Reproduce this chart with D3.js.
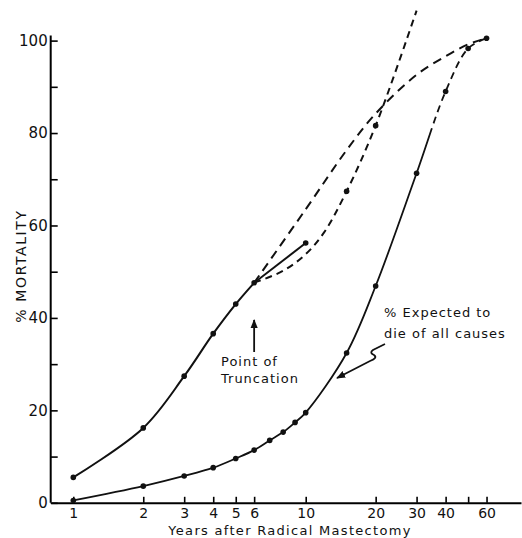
<!DOCTYPE html>
<html>
<head>
<meta charset="utf-8">
<script src="https://cdn.jsdelivr.net/npm/d3@7"></script>
<style>
  body { margin: 0; background: #fff; }
  text { font-family: "DejaVu Sans", sans-serif; fill: #111; }
</style>
</head>
<body>
<svg id="chart" width="522" height="538"></svg>
<script>
// x tick labels (years, log spaced) and y ticks
var xTicks = [1, 2, 3, 4, 5, 6, 10, 20, 30, 40, 50, 60];
var xTickLabels = ["1", "2", "3", "4", "5", "6", "10", "20", "30", "40", "", "60"];
var yTicks = [0, 10, 20, 30, 40, 50, 60, 70, 80, 90, 100];
var yTickLabels = ["0", "", "20", "", "40", "", "60", "", "80", "", "100"];

// observed mortality, years 1-6
var obsYears = [1, 2, 3, 4, 5, 6];
var obsMort = [5.5, 16.2, 27.4, 36.6, 43.0, 47.6];

// short solid piece after truncation
var truncYears = [6, 10];
var truncMort = [47.6, 56.2];

// projected (dashed) from truncation point
var projYears = [6, 8, 10, 12, 15, 20, 30];
var projMort = [47.6, 50.2, 53.8, 58.5, 67.4, 81.6, 106.5];
var projDots = [15, 20];

// extrapolated (long dashed) curve
var extYears = [6, 10, 15, 20, 30, 40, 50, 60];
var extMort = [47.6, 63.5, 76.3, 84.2, 92.6, 96.6, 99.2, 100.5];

// expected to die of all causes
var expYears = [1, 2, 3, 4, 5, 6, 7, 8, 9, 10, 15, 20, 30, 40, 50, 60];
var expMort = [0.5, 3.6, 5.8, 7.6, 9.6, 11.4, 13.5, 15.3, 17.4, 19.5, 32.4, 46.9, 71.3, 89, 98.3, 100.5];
var expSolidUntil = 34.9; // after this year the line is dashed

var svg = d3.select("#chart");

// log scale: year 1 at 73.3px, year 10 at 305.7px, axis runs 50.7 -> 521
var x = d3.scaleLog().domain([1, 10]).range([73.3, 305.7]);
x.domain([x.invert(50.7), x.invert(521)]).range([50.7, 521]);
var y = d3.scaleLinear().domain([0, 100]).range([502.8, 40.6]);

var zip = function(a, b) { return a.map(function(v, i) { return {yr: v, m: b[i]}; }); };

// axes
var xAxis = d3.axisBottom(x)
    .tickValues(xTicks)
    .tickFormat(function(d, i) { return xTickLabels[i]; })
    .tickSizeInner(-6).tickSizeOuter(0).tickPadding(5);
var gx = svg.append("g").attr("transform", "translate(0," + y(0) + ")").call(xAxis);
gx.select(".domain").attr("stroke-width", 2);
gx.selectAll(".tick line").attr("stroke-width", 1.6);
gx.selectAll("text").style("font-size", "14px");

var yAxis = d3.axisLeft(y)
    .tickValues(yTicks)
    .tickFormat(function(d, i) { return yTickLabels[i]; })
    .tickSizeInner(-7).tickSizeOuter(0).tickPadding(3);
var gy = svg.append("g").attr("transform", "translate(" + x.range()[0] + ",0)").call(yAxis);
gy.select(".domain").attr("d", "M0," + y(0) + "V" + (y(100) - 5)).attr("stroke-width", 2);
gy.selectAll(".tick line").attr("stroke-width", 1.6);
gy.selectAll("text").style("font-size", "15px");

svg.append("text")
    .attr("x", 290).attr("y", 535)
    .attr("text-anchor", "middle")
    .style("font-size", "13px").style("letter-spacing", "1.3px")
    .text("Years after Radical Mastectomy");

svg.append("text")
    .attr("transform", "translate(26,266) rotate(-90)")
    .attr("text-anchor", "middle")
    .style("font-size", "14px").style("letter-spacing", "1.6px")
    .text("% MORTALITY");

var line = function(curve) {
    return d3.line().x(function(d) { return x(d.yr); }).y(function(d) { return y(d.m); }).curve(curve);
};

var drawPath = function(data, curve, dash, w) {
    svg.append("path")
        .datum(data)
        .attr("d", line(curve))
        .attr("fill", "none")
        .attr("stroke", "#111")
        .attr("stroke-width", w)
        .attr("stroke-dasharray", dash);
};

var smooth = d3.curveCatmullRom.alpha(0.5);

// long dashed extrapolation
drawPath(zip(extYears, extMort), smooth, "9,6", 2);
// projected dashed
drawPath(zip(projYears, projMort), smooth, "7,5", 2);
// observed
drawPath(zip(obsYears, obsMort), smooth, null, 2);
drawPath(zip(truncYears, truncMort), d3.curveLinear, null, 2);

// expected curve: solid then dashed
var expAll = zip(expYears, expMort);
var expPath = svg.append("path")
    .datum(expAll)
    .attr("d", line(smooth))
    .attr("fill", "none").attr("stroke", "#111").attr("stroke-width", 1.8);
// split solid / dashed by length at expSolidUntil
var node = expPath.node(), total = node.getTotalLength(), lo = 0, hi = total;
for (var k = 0; k < 30; k++) {
    var mid = (lo + hi) / 2;
    if (node.getPointAtLength(mid).x < x(expSolidUntil)) lo = mid; else hi = mid;
}
var dashes = [lo];
var pos = lo, on = false;
while (pos < total) { dashes.push(on ? 7 : 5); pos += on ? 7 : 5; on = !on; }
expPath.attr("stroke-dasharray", dashes.join(","));

// dots
var dots = zip(obsYears, obsMort)
    .concat(zip(truncYears.slice(1), truncMort.slice(1)))
    .concat(zip(projYears, projMort).filter(function(d) { return projDots.indexOf(d.yr) >= 0; }))
    .concat(expAll);
svg.selectAll("circle.dot")
    .data(dots)
    .enter().append("circle")
    .attr("class", "dot")
    .attr("cx", function(d) { return x(d.yr); })
    .attr("cy", function(d) { return y(d.m); })
    .attr("r", 2.8)
    .attr("fill", "#111");

// annotations
svg.append("defs").append("marker")
    .attr("id", "head").attr("viewBox", "0 0 10 10")
    .attr("refX", 9).attr("refY", 5)
    .attr("markerWidth", 5).attr("markerHeight", 5)
    .attr("orient", "auto")
    .append("path").attr("d", "M0,1L10,5L0,9Z").attr("fill", "#111");

svg.append("line")
    .attr("x1", x(6)).attr("y1", 352).attr("x2", x(6)).attr("y2", 320)
    .attr("stroke", "#111").attr("stroke-width", 1.8)
    .attr("marker-end", "url(#head)");

svg.append("text").attr("x", 221).attr("y", 366)
    .style("font-size", "13px").style("letter-spacing", "1px").text("Point  of");
svg.append("text").attr("x", 221).attr("y", 383)
    .style("font-size", "13px").style("letter-spacing", "1px").text("Truncation");

svg.append("text").attr("x", 384).attr("y", 317)
    .style("font-size", "13px").style("letter-spacing", "1px").text("% Expected  to");
svg.append("text").attr("x", 384).attr("y", 338)
    .style("font-size", "13px").style("letter-spacing", "1px").text("die  of  all  causes");

svg.append("path")
    .attr("d", "M385,344 L373,350 Q369,353 374,355 Q378,358 370,361 L337,378")
    .attr("fill", "none").attr("stroke", "#111").attr("stroke-width", 1.8)
    .attr("marker-end", "url(#head)");
</script>
</body>
</html>
